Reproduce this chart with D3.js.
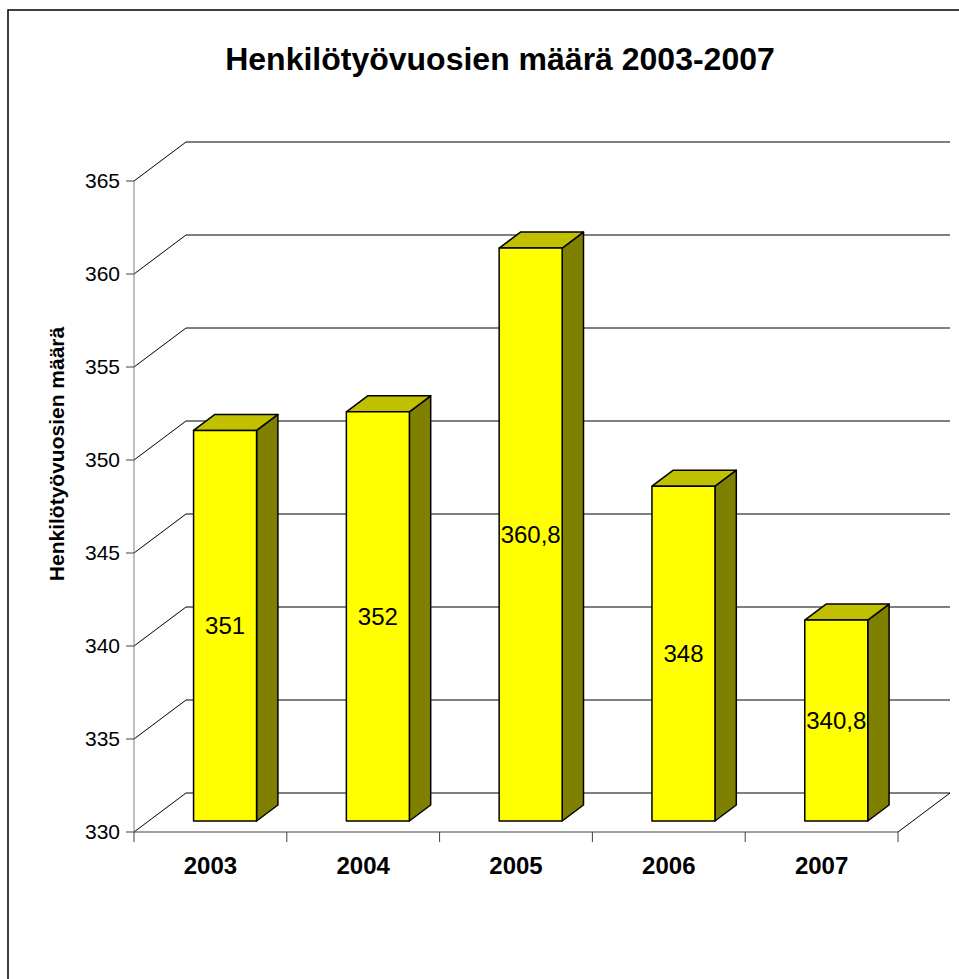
<!DOCTYPE html>
<html>
<head>
<meta charset="utf-8">
<script src="https://cdnjs.cloudflare.com/ajax/libs/d3/7.8.5/d3.min.js"></script>
<style>
  body { margin: 0; background: #fff; }
  svg { display: block; font-family: Arial, "Liberation Sans", sans-serif; }
</style>
</head>
<body>
<div id="chart"></div>
<script>
var years = ["2003", "2004", "2005", "2006", "2007"];
var values = [351, 352, 360.8, 348, 340.8];
var labels = ["351", "352", "360,8", "348", "340,8"];
var yTicks = [330, 335, 340, 345, 350, 355, 360, 365];

var width = 959, height = 979;
var depth = [52, -39];          // offset of back wall from front plane
var barFront = 11 / 39, barBack = 27 / 39;  // bar position in the depth
var barWidth = 63;

var svg = d3.select("#chart").append("svg")
    .attr("width", width)
    .attr("height", height);

svg.append("rect")
    .attr("x", 8).attr("y", 10)
    .attr("width", 980).attr("height", 1000)
    .attr("fill", "#fff")
    .attr("stroke", "#000")
    .attr("stroke-width", 1.5);

var x = d3.scaleBand().domain(years).range([134, 898]);
var y = d3.scaleLinear().domain([330, 365]).range([832, 181]);

function off(f) { return [depth[0] * f, depth[1] * f]; }

// back wall gridlines with the left wall diagonals
var grid = svg.append("g").attr("stroke", "#000").attr("fill", "none");
yTicks.forEach(function (v) {
    var yy = y(v);
    grid.append("path")
        .attr("d", "M" + x.range()[0] + "," + yy +
            "L" + (x.range()[0] + depth[0]) + "," + (yy + depth[1]) +
            "H" + (x.range()[1] + depth[0]));
});
// floor right edge
grid.append("line")
    .attr("x1", x.range()[1]).attr("y1", y(330))
    .attr("x2", x.range()[1] + depth[0]).attr("y2", y(330) + depth[1]);

// axes
var axisColor = "#808080";
svg.append("line")
    .attr("x1", x.range()[0]).attr("x2", x.range()[0])
    .attr("y1", y(365)).attr("y2", y(330))
    .attr("stroke", axisColor);
svg.append("line")
    .attr("x1", x.range()[0]).attr("x2", x.range()[1])
    .attr("y1", y(330)).attr("y2", y(330))
    .attr("stroke", "#404040");

yTicks.forEach(function (v) {
    svg.append("line")
        .attr("x1", x.range()[0] - 8).attr("x2", x.range()[0])
        .attr("y1", y(v)).attr("y2", y(v))
        .attr("stroke", "#404040");
    svg.append("text")
        .attr("x", x.range()[0] - 14)
        .attr("y", y(v))
        .attr("dy", "0.35em")
        .attr("text-anchor", "end")
        .attr("font-size", 21)
        .text(v);
});

var xTickPos = years.map(function (d) { return x(d); }).concat([x.range()[1]]);
xTickPos.forEach(function (p) {
    svg.append("line")
        .attr("x1", p).attr("x2", p)
        .attr("y1", y(330)).attr("y2", y(330) + 10)
        .attr("stroke", "#404040");
});
years.forEach(function (d) {
    svg.append("text")
        .attr("x", x(d) + x.bandwidth() / 2)
        .attr("y", 874)
        .attr("text-anchor", "middle")
        .attr("font-size", 24)
        .attr("font-weight", "bold")
        .text(d);
});

// bars
var o1 = off(barFront), o2 = off(barBack);
years.forEach(function (d, i) {
    var x0 = x(d) + (x.bandwidth() - barWidth) / 2 + o1[0];
    var x1 = x0 + barWidth;
    var yb = y(330) + o1[1];
    var yt = y(values[i]) + o1[1];
    var dx = o2[0] - o1[0], dy = o2[1] - o1[1];
    var g = svg.append("g").attr("stroke", "#000").attr("stroke-width", 1.5)
        .attr("stroke-linejoin", "round");
    g.append("polygon")
        .attr("points", [[x1, yb], [x1 + dx, yb + dy], [x1 + dx, yt + dy], [x1, yt]].join(" "))
        .attr("fill", "#808000");
    g.append("polygon")
        .attr("points", [[x0, yt], [x1, yt], [x1 + dx, yt + dy], [x0 + dx, yt + dy]].join(" "))
        .attr("fill", "#c0c000");
    g.append("rect")
        .attr("x", x0).attr("y", yt)
        .attr("width", barWidth).attr("height", yb - yt)
        .attr("fill", "#ffff00");
    svg.append("text")
        .attr("x", x0 + barWidth / 2)
        .attr("y", (yt + yb) / 2)
        .attr("dy", "0.35em")
        .attr("text-anchor", "middle")
        .attr("font-size", 24)
        .text(labels[i]);
});

// titles
svg.append("text")
    .attr("x", 500).attr("y", 70)
    .attr("text-anchor", "middle")
    .attr("font-size", 32)
    .attr("font-weight", "bold")
    .text("Henkilötyövuosien määrä 2003-2007");

svg.append("text")
    .attr("transform", "translate(64,454) rotate(-90)")
    .attr("text-anchor", "middle")
    .attr("font-size", 21)
    .attr("font-weight", "bold")
    .text("Henkilötyövuosien määrä");
</script>
</body>
</html>
